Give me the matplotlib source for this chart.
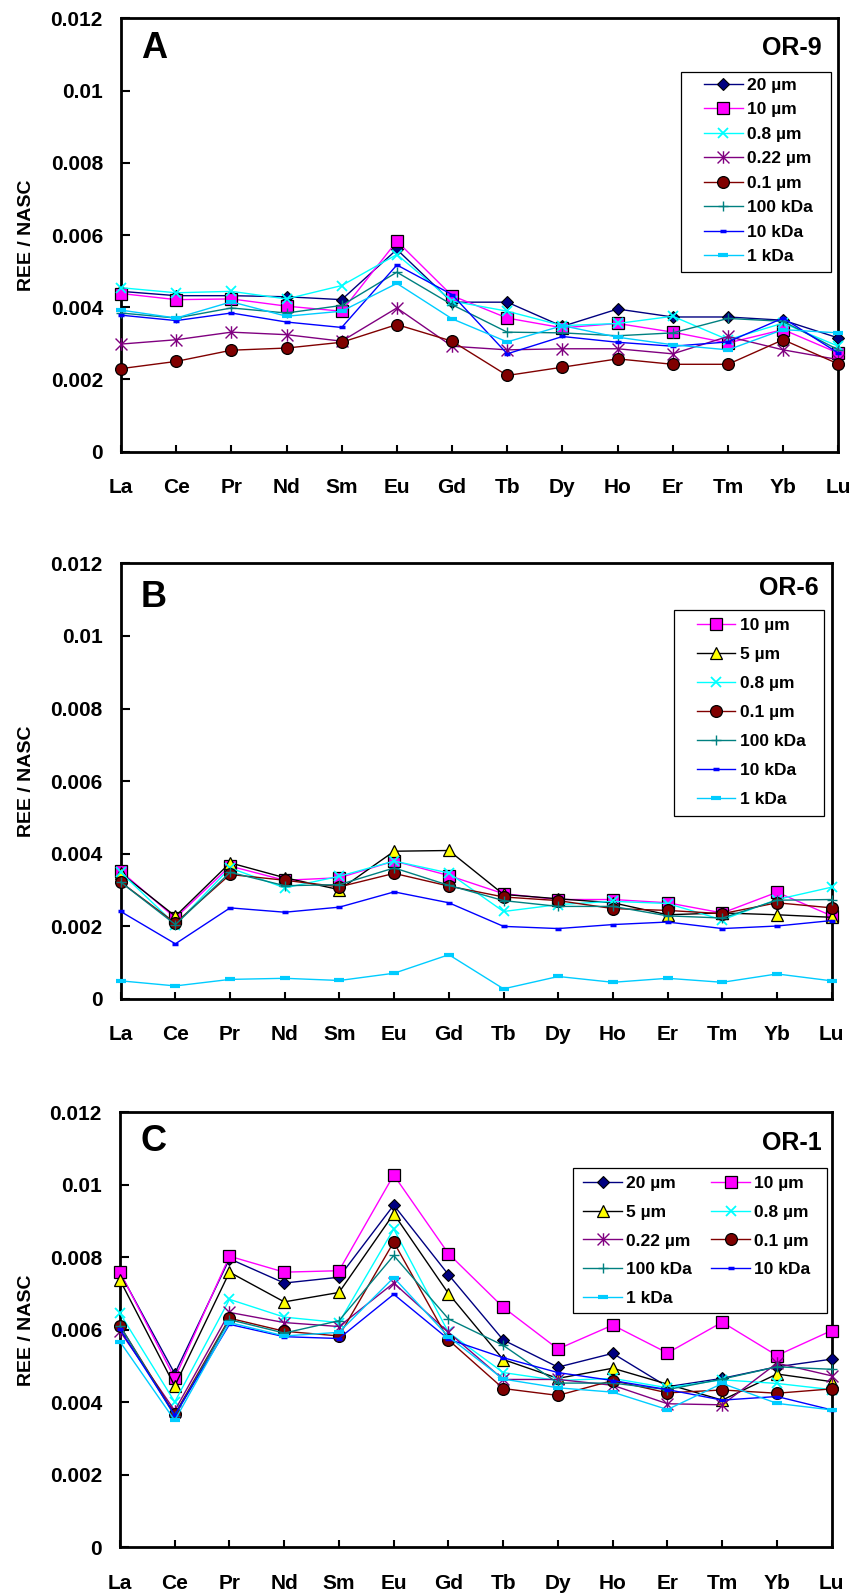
import matplotlib
matplotlib.use("Agg")
import matplotlib.pyplot as plt
from matplotlib.path import Path
from matplotlib.patches import Rectangle

plt.rcParams['font.family'] = ['Liberation Sans', 'DejaVu Sans']
plt.rcParams['font.weight'] = 'bold'

# ---------------- data ----------------
elements = ['La', 'Ce', 'Pr', 'Nd', 'Sm', 'Eu', 'Gd', 'Tb', 'Dy', 'Ho', 'Er', 'Tm', 'Yb', 'Lu']
y_ticks = [0, 0.002, 0.004, 0.006, 0.008, 0.010, 0.012]
y_tick_labels = ['0', '0.002', '0.004', '0.006', '0.008', '0.01', '0.012']

# Panel A : OR-9
a_20um = [0.00444, 0.00432, 0.00432, 0.00429, 0.00421, 0.00560, 0.00414, 0.00414, 0.00347, 0.00395, 0.00373, 0.00373, 0.00364, 0.00315]
a_10um = [0.00438, 0.00421, 0.00423, 0.00403, 0.00389, 0.00583, 0.00432, 0.00370, 0.00343, 0.00355, 0.00331, 0.00301, 0.00338, 0.00273]
a_08um = [0.00454, 0.00440, 0.00444, 0.00423, 0.00460, 0.00546, 0.00417, 0.00389, 0.00349, 0.00355, 0.00375, 0.00310, 0.00356, 0.00292]
a_022um = [0.00298, 0.00310, 0.00331, 0.00324, 0.00306, 0.00398, 0.00292, 0.00282, 0.00285, 0.00285, 0.00271, 0.00319, 0.00282, 0.00255]
a_01um = [0.00230, 0.00250, 0.00281, 0.00287, 0.00303, 0.00352, 0.00306, 0.00211, 0.00234, 0.00257, 0.00242, 0.00242, 0.00310, 0.00243]
a_100kda = [0.00384, 0.00370, 0.00398, 0.00384, 0.00405, 0.00497, 0.00407, 0.00331, 0.00329, 0.00321, 0.00329, 0.00369, 0.00361, 0.00282]
a_10kda = [0.00378, 0.00363, 0.00384, 0.00359, 0.00344, 0.00517, 0.00435, 0.00271, 0.00319, 0.00303, 0.00292, 0.00304, 0.00370, 0.00273]
a_1kda = [0.00392, 0.00370, 0.00415, 0.00375, 0.00389, 0.00466, 0.00368, 0.00304, 0.00349, 0.00317, 0.00296, 0.00282, 0.00338, 0.00329]

# Panel B : OR-6
b_10um = [0.00352, 0.00223, 0.00366, 0.00327, 0.00334, 0.00380, 0.00340, 0.00290, 0.00274, 0.00274, 0.00265, 0.00237, 0.00294, 0.00229]
b_5um = [0.00347, 0.00228, 0.00375, 0.00334, 0.00301, 0.00407, 0.00409, 0.00288, 0.00276, 0.00265, 0.00232, 0.00237, 0.00232, 0.00225]
b_08um = [0.00349, 0.00205, 0.00361, 0.00306, 0.00338, 0.00380, 0.00347, 0.00241, 0.00260, 0.00269, 0.00263, 0.00218, 0.00274, 0.00308]
b_01um = [0.00322, 0.00209, 0.00343, 0.00327, 0.00309, 0.00346, 0.00311, 0.00281, 0.00271, 0.00249, 0.00244, 0.00235, 0.00265, 0.00251]
b_100kda = [0.00322, 0.00205, 0.00349, 0.00312, 0.00315, 0.00361, 0.00313, 0.00271, 0.00255, 0.00255, 0.00229, 0.00223, 0.00272, 0.00274]
b_10kda = [0.00241, 0.00152, 0.00251, 0.00239, 0.00253, 0.00295, 0.00265, 0.00200, 0.00194, 0.00205, 0.00212, 0.00194, 0.00201, 0.00216]
b_1kda = [0.00050, 0.00036, 0.00054, 0.00057, 0.00051, 0.00071, 0.00122, 0.00028, 0.00062, 0.00046, 0.00057, 0.00046, 0.00069, 0.00050]

# Panel C : OR-1
c_20um = [0.00757, 0.00479, 0.00796, 0.00729, 0.00745, 0.00944, 0.00752, 0.00572, 0.00497, 0.00535, 0.00443, 0.00466, 0.00498, 0.00519]
c_10um = [0.00759, 0.00466, 0.00803, 0.00759, 0.00763, 0.01027, 0.00810, 0.00662, 0.00547, 0.00613, 0.00536, 0.00621, 0.00529, 0.00598]
c_5um = [0.00737, 0.00445, 0.00759, 0.00677, 0.00703, 0.00920, 0.00700, 0.00518, 0.00466, 0.00494, 0.00450, 0.00406, 0.00478, 0.00457]
c_08um = [0.00645, 0.00401, 0.00684, 0.00635, 0.00620, 0.00878, 0.00593, 0.00482, 0.00460, 0.00466, 0.00440, 0.00462, 0.00452, 0.00435]
c_022um = [0.00596, 0.00377, 0.00648, 0.00620, 0.00609, 0.00729, 0.00593, 0.00463, 0.00463, 0.00447, 0.00396, 0.00393, 0.00508, 0.00473]
c_01um = [0.00611, 0.00367, 0.00632, 0.00596, 0.00583, 0.00842, 0.00572, 0.00438, 0.00419, 0.00460, 0.00426, 0.00434, 0.00425, 0.00437]
c_100kda = [0.00611, 0.00362, 0.00628, 0.00591, 0.00625, 0.00805, 0.00630, 0.00557, 0.00453, 0.00453, 0.00435, 0.00464, 0.00498, 0.00491]
c_10kda = [0.00601, 0.00365, 0.00615, 0.00581, 0.00576, 0.00698, 0.00574, 0.00523, 0.00482, 0.00460, 0.00435, 0.00406, 0.00416, 0.00379]
c_1kda = [0.00567, 0.00350, 0.00620, 0.00583, 0.00593, 0.00744, 0.00581, 0.00464, 0.00440, 0.00428, 0.00380, 0.00452, 0.00397, 0.00379]

# ---------------- styles ----------------
asterisk = Path([(-1, -1), (1, 1), (-1, 1), (1, -1), (0, -1.05), (0, 1.05)],
                [Path.MOVETO, Path.LINETO, Path.MOVETO, Path.LINETO, Path.MOVETO, Path.LINETO])

STYLE = {
    '20 µm':   dict(color='#000080', marker='D', ms=6.5, mfc='#000080', mec='#000000', mew=0.8),
    '10 µm':   dict(color='#FF00FF', marker='s', ms=8, mfc='#FF00FF', mec='#000000', mew=0.9),
    '5 µm':    dict(color='#000000', marker='^', ms=9, mfc='#FFFF00', mec='#000000', mew=0.9),
    '0.8 µm':  dict(color='#00FFFF', marker='x', ms=7.5, mfc='none', mec='#00FFFF', mew=1.3),
    '0.22 µm': dict(color='#800080', marker=asterisk, ms=9, mfc='none', mec='#800080', mew=1.0),
    '0.1 µm':  dict(color='#800000', marker='o', ms=8.5, mfc='#800000', mec='#000000', mew=0.9),
    '100 kDa': dict(color='#008080', marker='+', ms=7, mfc='none', mec='#008080', mew=1.0),
    '10 kDa':  dict(color='#0000FF', marker='_', ms=5, mfc='none', mec='#0000FF', mew=2.5),
    '1 kDa':   dict(color='#00CCFF', marker='_', ms=7, mfc='none', mec='#00CCFF', mew=3.0),
}

panels = [
    dict(letter='A', name='OR-9', box=(121, 18.3, 838.3, 451.7),
         series=[('20 µm', a_20um), ('10 µm', a_10um), ('0.8 µm', a_08um), ('0.22 µm', a_022um),
                 ('0.1 µm', a_01um), ('100 kDa', a_100kda), ('10 kDa', a_10kda), ('1 kDa', a_1kda)],
         letter_xy=(141, 58.3), name_xy=(822, 55),
         leg_box=(681, 72.3, 831, 272.3), leg_anchor=(704, 77.6), leg_spacing=0.54, ncol=1),
    dict(letter='B', name='OR-6', box=(120.7, 563.3, 831.7, 999),
         series=[('10 µm', b_10um), ('5 µm', b_5um), ('0.8 µm', b_08um), ('0.1 µm', b_01um),
                 ('100 kDa', b_100kda), ('10 kDa', b_10kda), ('1 kDa', b_1kda)],
         letter_xy=(141, 607.3), name_xy=(818.5, 595),
         leg_box=(674, 610, 824, 816), leg_anchor=(696.7, 618), leg_spacing=0.80, ncol=1),
    dict(letter='C', name='OR-1', box=(120, 1112.3, 831.7, 1547.3),
         series=[('20 µm', c_20um), ('10 µm', c_10um), ('5 µm', c_5um), ('0.8 µm', c_08um),
                 ('0.22 µm', c_022um), ('0.1 µm', c_01um), ('100 kDa', c_100kda),
                 ('10 kDa', c_10kda), ('1 kDa', c_1kda)],
         letter_xy=(141, 1151.3), name_xy=(822, 1150),
         leg_box=(573.3, 1168.3, 826.7, 1313.3), leg_anchor=(583.3, 1176), leg_spacing=0.78, ncol=2),
]

W, H = 856, 1594
fig = plt.figure(figsize=(W / 100, H / 100), dpi=100, facecolor='white')


def fx(x):
    return x / W


def fy(y):
    return 1 - y / H


x = list(range(len(elements)))
for p in panels:
    l, t, r, b = p['box']
    ax = fig.add_axes([fx(l), fy(b), (r - l) / W, (b - t) / H])
    handles = {}
    for name, vals in p['series']:
        st = STYLE[name]
        ln, = ax.plot(x, vals, color=st['color'], lw=1.0, marker=st['marker'], ms=st['ms'],
                      mfc=st['mfc'], mec=st['mec'], mew=st['mew'], clip_on=False, zorder=3,
                      label=name)
        handles[name] = ln
    ax.set_xlim(0, len(elements) - 1)
    ax.set_ylim(0, 0.012)
    ax.set_xticks(x)
    ax.set_xticklabels(elements, fontsize=15, fontweight='bold')
    ax.set_yticks(y_ticks)
    ax.set_yticklabels(y_tick_labels, fontsize=15, fontweight='bold')
    ax.tick_params(axis='x', direction='in', length=5.3, width=1.5, pad=19)
    ax.tick_params(axis='y', direction='in', length=6.5, width=1.5, pad=13)
    for s in ax.spines.values():
        s.set_linewidth(2.0)
        s.set_zorder(2.5)
    ax.set_ylabel('REE / NASC', fontsize=14, fontweight='bold')
    ax.yaxis.label.set(ha='center', va='center', rotation_mode='default')
    ax.yaxis.set_label_coords((26.5 - l) / (r - l), 0.5)

    fig.text(fx(p['letter_xy'][0]), fy(p['letter_xy'][1]), p['letter'], fontsize=26,
             fontweight='bold', ha='left', va='baseline')
    fig.text(fx(p['name_xy'][0]), fy(p['name_xy'][1]), p['name'], fontsize=18,
             fontweight='bold', ha='right', va='baseline')

    # legend frame
    bx0, by0, bx1, by1 = p['leg_box']
    ax.add_patch(Rectangle((fx(bx0), fy(by1)), (bx1 - bx0) / W, (by1 - by0) / H,
                           transform=fig.transFigure, facecolor='white', edgecolor='black',
                           lw=0.9, zorder=4, clip_on=False))
    names = [n for n, _ in p['series']]
    if p['ncol'] == 2:
        order = names[0::2] + names[1::2]
    else:
        order = names
    leg = ax.legend([handles[n] for n in order], order, loc='upper left',
                    bbox_to_anchor=(fx(p['leg_anchor'][0]), fy(p['leg_anchor'][1])),
                    bbox_transform=fig.transFigure, frameon=False, ncol=p['ncol'],
                    prop=dict(family=['Liberation Sans', 'DejaVu Sans'], weight='bold', size=12.5),
                    borderpad=0, borderaxespad=0, handlelength=2.22, handletextpad=0.25,
                    labelspacing=p['leg_spacing'], columnspacing=1.12, numpoints=1)
    leg.set_zorder(5)

fig.savefig('out.png', dpi=100, facecolor='white')
